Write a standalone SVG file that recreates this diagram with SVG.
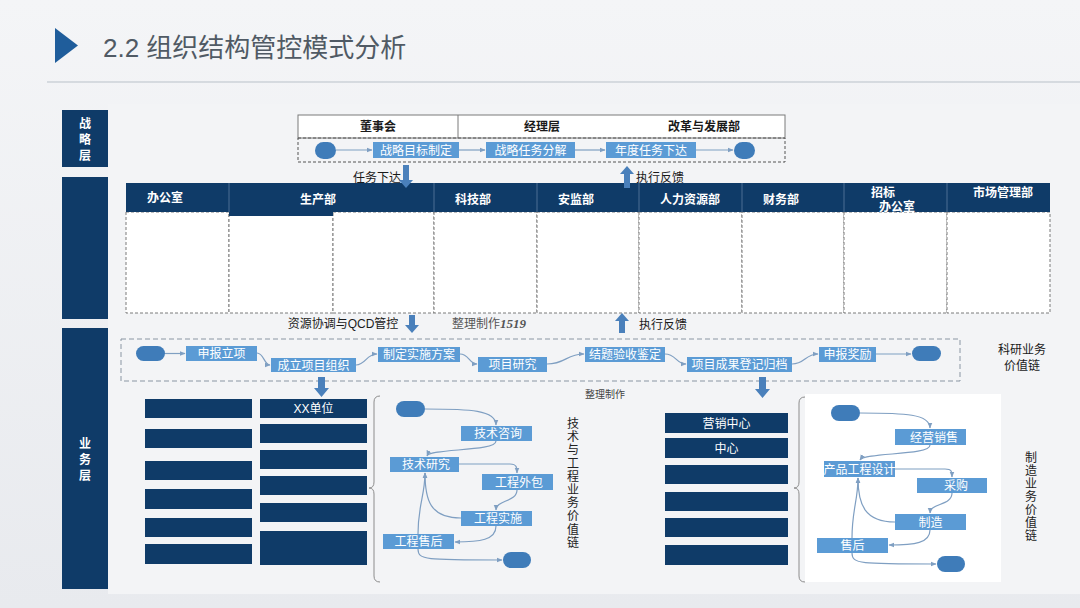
<svg xmlns="http://www.w3.org/2000/svg" width="1080" height="608" viewBox="0 0 1080 608">
<defs>
<linearGradient id="bg" x1="0" y1="0" x2="0" y2="1">
<stop offset="0" stop-color="#f4f5f7"/>
<stop offset="1" stop-color="#e8eaee"/>
</linearGradient>
<marker id="ar" viewBox="0 0 10 10" refX="9" refY="5" markerWidth="6" markerHeight="6" orient="auto" markerUnits="userSpaceOnUse">
<path d="M0,1 L10,5 L0,9 z" fill="#7f9fc2"/>
</marker>
<style>
.navy{fill:#0f3b68}
.hdr{font-family:"Liberation Sans","Noto Sans CJK SC",sans-serif;font-size:12px;font-weight:bold;fill:#ffffff;text-anchor:middle}
.blk{font-family:"Liberation Sans","Noto Sans CJK SC",sans-serif;font-size:12px;fill:#1a1a1a;text-anchor:middle}
.blkb{font-family:"Liberation Sans","Noto Sans CJK SC",sans-serif;font-size:12px;font-weight:bold;fill:#1a1a1a;text-anchor:middle}
.fb{fill:#5b9bd5}
.fbt{font-family:"Liberation Sans","Noto Sans CJK SC",sans-serif;font-size:12px;fill:#ffffff;text-anchor:middle}
.ov{fill:#3f7cb9}
.cell{fill:#ffffff;stroke:#7a7a7a;stroke-width:1;stroke-dasharray:3,2}
.dash{fill:none;stroke:#8a96a3;stroke-width:1;stroke-dasharray:5,3}
.ln{fill:none;stroke:#7f9fc2;stroke-width:1.2;marker-end:url(#ar)}
.big{fill:#4a80bb}
.brace{fill:none;stroke:#8c8c8c;stroke-width:1}
.vt{font-family:"Liberation Sans","Noto Sans CJK SC",sans-serif;font-size:12px;fill:#222222;text-anchor:middle}
.wt{font-family:"Liberation Sans","Noto Sans CJK SC",sans-serif;font-size:12px;fill:#ffffff;text-anchor:middle}
</style>
</defs>
<rect x="0" y="0" width="1080" height="608" fill="url(#bg)"/>
<rect x="108" y="104" width="972" height="490" fill="#f3f4f6"/>
<rect x="805" y="394" width="196" height="188" fill="#ffffff"/>

<g id="title">
<polygon points="55,28 78,45.5 55,63" fill="#1f5d9b"/>
<text x="103" y="57" font-family="'Liberation Sans','Noto Sans CJK SC',sans-serif" font-size="26" fill="#505a64">2.2 组织结构管控模式分析</text>
<line x1="47" y1="82" x2="1080" y2="82" stroke="#b9c1c9" stroke-width="1"/>
</g>

<g id="side-labels">
<rect class="navy" x="62" y="110" width="46" height="57"/>
<text class="hdr" font-size="13"><tspan x="85" y="128">战</tspan><tspan x="85" y="144">略</tspan><tspan x="85" y="160">层</tspan></text>
<rect class="navy" x="62" y="177" width="46" height="142"/>
<rect class="navy" x="62" y="328" width="46" height="261"/>
<text class="hdr" font-size="13"><tspan x="85" y="448">业</tspan><tspan x="85" y="464">务</tspan><tspan x="85" y="480">层</tspan></text>
</g>

<g id="strategy">
<rect x="298" y="115" width="487" height="23" fill="#ffffff" stroke="#7a7a7a" stroke-width="1"/>
<line x1="458" y1="115" x2="458" y2="138" stroke="#7a7a7a"/>
<text class="blkb" x="378" y="131">董事会</text>
<text class="blkb" x="542" y="131">经理层</text>
<text class="blkb" x="704" y="131">改革与发展部</text>
<rect x="298" y="138" width="487" height="24" fill="none" stroke="#555" stroke-width="1" stroke-dasharray="3,2"/>
<g id="s-start"><rect class="ov" x="315" y="142" width="21" height="17" rx="8.5"/></g>
<g id="s1"><rect class="fb" x="373" y="142" width="86" height="16"/><text class="fbt" x="416" y="154.5">战略目标制定</text></g>
<g id="s2"><rect class="fb" x="486" y="142" width="89" height="16"/><text class="fbt" x="530.5" y="154.5">战略任务分解</text></g>
<g id="s3"><rect class="fb" x="606" y="142" width="90" height="16"/><text class="fbt" x="651" y="154.5">年度任务下达</text></g>
<g id="s-end"><rect class="ov" x="734" y="142" width="21" height="17" rx="8.5"/></g>
</g>

<g id="departments">
<rect class="cell" x="126" y="212" width="103" height="101"/>
<rect class="cell" x="229" y="212" width="104" height="101"/>
<rect class="cell" x="333" y="212" width="101" height="101"/>
<rect class="cell" x="434" y="212" width="103" height="101"/>
<rect class="cell" x="537" y="212" width="102" height="101"/>
<rect class="cell" x="639" y="212" width="103" height="101"/>
<rect class="cell" x="742" y="212" width="102" height="101"/>
<rect class="cell" x="844" y="212" width="103" height="101"/>
<rect class="cell" x="947" y="212" width="103" height="101"/>
<rect class="navy" x="126" y="183" width="924" height="29"/>
<rect class="navy" x="229" y="212" width="104" height="4"/>
<g stroke="#4d6f93" stroke-width="1">
<line x1="229" y1="183" x2="229" y2="212"/>
<line x1="434" y1="183" x2="434" y2="212"/>
<line x1="537" y1="183" x2="537" y2="212"/>
<line x1="639" y1="183" x2="639" y2="212"/>
<line x1="742" y1="183" x2="742" y2="212"/>
<line x1="844" y1="183" x2="844" y2="212"/>
<line x1="947" y1="183" x2="947" y2="212"/>
</g>
<text class="hdr" x="165" y="202">办公室</text>
<text class="hdr" x="318" y="204">生产部</text>
<text class="hdr" x="473" y="204">科技部</text>
<text class="hdr" x="576" y="204">安监部</text>
<text class="hdr" x="690" y="204">人力资源部</text>
<text class="hdr" x="781" y="204">财务部</text>
<text class="hdr" x="883" y="197">招标</text>
<text class="hdr" x="897" y="211">办公室</text>
<text class="hdr" x="1003" y="197">市场管理部</text>
</g>

<g id="research-flow">
<rect class="dash" x="121" y="339" width="839" height="42"/>
<g id="r-start"><rect class="ov" x="136" y="346" width="29" height="15" rx="7.5"/></g>
<g id="r1"><rect class="fb" x="186" y="346" width="71" height="15"/><text class="fbt" x="221.5" y="358">申报立项</text></g>
<g id="r2"><rect class="fb" x="271" y="358" width="85" height="14"/><text class="fbt" x="313.5" y="369.5">成立项目组织</text></g>
<g id="r3"><rect class="fb" x="378" y="347" width="82" height="15"/><text class="fbt" x="419" y="359">制定实施方案</text></g>
<g id="r4"><rect class="fb" x="478" y="357" width="69" height="15"/><text class="fbt" x="512.5" y="369">项目研究</text></g>
<g id="r5"><rect class="fb" x="585" y="347" width="80" height="15"/><text class="fbt" x="625" y="359">结题验收鉴定</text></g>
<g id="r6"><rect class="fb" x="687" y="357" width="105" height="15"/><text class="fbt" x="739.5" y="369">项目成果登记归档</text></g>
<g id="r7"><rect class="fb" x="819" y="347" width="57" height="15"/><text class="fbt" x="847.5" y="359">申报奖励</text></g>
<g id="r-end"><rect class="ov" x="912" y="346" width="29" height="15" rx="7.5"/></g>
<text class="blk" x="1022" y="354" font-size="12.5">科研业务</text>
<text class="blk" x="1022" y="370" font-size="12.5">价值链</text>
</g>

<g id="tech-units">
<rect class="navy" x="145" y="399" width="107" height="19"/>
<rect class="navy" x="145" y="429" width="107" height="19"/>
<rect class="navy" x="145" y="461" width="107" height="19"/>
<rect class="navy" x="145" y="489" width="107" height="20"/>
<rect class="navy" x="145" y="518" width="107" height="19"/>
<rect class="navy" x="145" y="544" width="107" height="20"/>
<rect class="navy" x="260" y="399" width="107" height="19"/>
<text class="wt" x="313.5" y="413">XX单位</text>
<rect class="navy" x="260" y="424" width="107" height="19"/>
<rect class="navy" x="260" y="450" width="107" height="19"/>
<rect class="navy" x="260" y="476" width="107" height="19"/>
<rect class="navy" x="260" y="503" width="107" height="19"/>
<rect class="navy" x="260" y="531" width="107" height="34"/>
<path class="brace" d="M380,396 Q374,396 374,402 L374,482 Q374,488 369,488 Q374,488 374,494 L374,576 Q374,582 380,582"/>
</g>

<g id="tech-flow">
<g id="t-start"><rect class="ov" x="396" y="401" width="29" height="16" rx="8"/></g>
<g id="t1"><rect class="fb" x="461" y="426" width="71" height="15"/><text class="fbt" x="498" y="438">技术咨询</text></g>
<g id="t2"><rect class="fb" x="390" y="457" width="69" height="15"/><text class="fbt" x="426" y="469">技术研究</text></g>
<g id="t3"><rect class="fb" x="482" y="474" width="71" height="16"/><text class="fbt" x="519" y="486.5">工程外包</text></g>
<g id="t4"><rect class="fb" x="461" y="511" width="71" height="15"/><text class="fbt" x="498" y="523">工程实施</text></g>
<g id="t5"><rect class="fb" x="383" y="534" width="71" height="15"/><text class="fbt" x="418.5" y="546">工程售后</text></g>
<g id="t-end"><rect class="ov" x="503" y="552" width="28" height="16" rx="8"/></g>
<text class="vt"><tspan x="573" y="428">技</tspan><tspan x="573" y="441.2">术</tspan><tspan x="573" y="454.4">与</tspan><tspan x="573" y="467.6">工</tspan><tspan x="573" y="480.8">程</tspan><tspan x="573" y="494">业</tspan><tspan x="573" y="507.2">务</tspan><tspan x="573" y="520.4">价</tspan><tspan x="573" y="533.6">值</tspan><tspan x="573" y="546.8">链</tspan></text>
</g>

<g id="sales-units">
<rect class="navy" x="665" y="413" width="123" height="20"/>
<text class="wt" x="726.5" y="427.5">营销中心</text>
<rect class="navy" x="665" y="438" width="123" height="20"/>
<text class="wt" x="726.5" y="452.5">中心</text>
<rect class="navy" x="665" y="465" width="123" height="19"/>
<rect class="navy" x="665" y="492" width="123" height="19"/>
<rect class="navy" x="665" y="518" width="123" height="19"/>
<rect class="navy" x="665" y="545" width="123" height="20"/>
<path class="brace" d="M805,397 Q799,397 799,403 L799,482 Q799,488 794,488 Q799,488 799,494 L799,576 Q799,582 805,582"/>
</g>

<g id="mfg-flow">
<g id="m-start"><rect class="ov" x="831" y="405" width="29" height="16" rx="8"/></g>
<g id="m1"><rect class="fb" x="895" y="429" width="71" height="16"/><text class="fbt" x="934" y="441.5">经营销售</text></g>
<g id="m2"><rect class="fb" x="824" y="461" width="71" height="16"/><text class="fbt" x="859.5" y="473.5" font-size="11.5">产品工程设计</text></g>
<g id="m3"><rect class="fb" x="917" y="478" width="70" height="15"/><text class="fbt" x="956" y="490">采购</text></g>
<g id="m4"><rect class="fb" x="895" y="514" width="71" height="16"/><text class="fbt" x="930.5" y="526.5">制造</text></g>
<g id="m5"><rect class="fb" x="817" y="538" width="71" height="15"/><text class="fbt" x="852.5" y="550">售后</text></g>
<g id="m-end"><rect class="ov" x="937" y="556" width="28" height="16" rx="8"/></g>
<text class="vt"><tspan x="1031" y="462">制</tspan><tspan x="1031" y="475">造</tspan><tspan x="1031" y="488">业</tspan><tspan x="1031" y="501">务</tspan><tspan x="1031" y="514">价</tspan><tspan x="1031" y="527">值</tspan><tspan x="1031" y="540">链</tspan></text>
</g>

<g id="connectors">
<polygon class="big" points="403,165 409,165 409,180 413,180 406,188 399,180 403,180"/>
<polygon class="big" points="624,188 630,188 630,174 634,174 627,166 620,174 624,174"/>
<polygon class="big" points="409,315 415,315 415,325 419,325 412,333 405,325 409,325"/>
<polygon class="big" points="619,333 625,333 625,321 629,321 622,313 615,321 619,321"/>
<polygon class="big" points="318,377 325,377 325,388 329,388 321.5,397 314,388 318,388"/>
<polygon class="big" points="759,377 766,377 766,389 770,389 762.5,398 755,389 759,389"/>
<text class="blk" x="377" y="182">任务下达</text>
<text class="blk" x="660" y="182">执行反馈</text>
<text class="blk" x="343" y="328">资源协调与QCD管控</text>
<text x="452" y="328" font-family="'Liberation Serif','Noto Sans CJK SC',serif" font-size="12" fill="#555">整理制作<tspan font-style="italic" font-weight="bold" font-size="13">1519</tspan></text>
<text class="blk" x="663" y="329">执行反馈</text>
<text x="585" y="398" font-family="'Liberation Serif','Noto Sans CJK SC',serif" font-size="10" fill="#444">整理制作</text>
<path class="ln" d="M336,150 L372,150"/>
<path class="ln" d="M459,150 L485,150"/>
<path class="ln" d="M575,150 L605,150"/>
<path class="ln" d="M696,150 L733,150"/>
<path class="ln" d="M165,353.5 L185,353.5"/>
<path class="ln" d="M257,353 C264,353 264,365 270,365"/>
<path class="ln" d="M356,365 C366,365 366,354 377,354"/>
<path class="ln" d="M460,354 C469,354 469,364 477,364"/>
<path class="ln" d="M547,364 C566,364 566,354 584,354"/>
<path class="ln" d="M665,354 C676,354 676,364 686,364"/>
<path class="ln" d="M792,364 C805,364 805,354 818,354"/>
<path class="ln" d="M876,354 L911,354"/>
<path class="ln" d="M425,409 C470,409 496,410 496,425"/>
<path class="ln" d="M496,441 C496,452 430,448 427,456"/>
<path class="ln" d="M459,464 L510,464 C517,464 517,468 517,473"/>
<path class="ln" d="M517,490 C517,502 496,500 496,510"/>
<path class="ln" d="M461,518 C430,518 425,500 425,473"/>
<path class="ln" d="M496,526 C496,540 480,542 455,542"/>
<path class="ln" d="M418,534 C418,505 425,495 425,473"/>
<path class="ln" d="M418,549 C418,560 425,560 502,560"/>
<path class="ln" d="M860,413 C905,413 930,414 930,428"/>
<path class="ln" d="M930,445 C930,456 865,452 860,460"/>
<path class="ln" d="M895,469 L945,469 C952,469 952,472 952,477"/>
<path class="ln" d="M952,493 C952,506 930,503 930,513"/>
<path class="ln" d="M895,522 C865,522 858,505 858,478"/>
<path class="ln" d="M930,530 C930,543 915,545 889,545"/>
<path class="ln" d="M852,538 C852,510 858,500 858,478"/>
<path class="ln" d="M852,553 C852,564 860,564 936,564"/>
</g>
</svg>
